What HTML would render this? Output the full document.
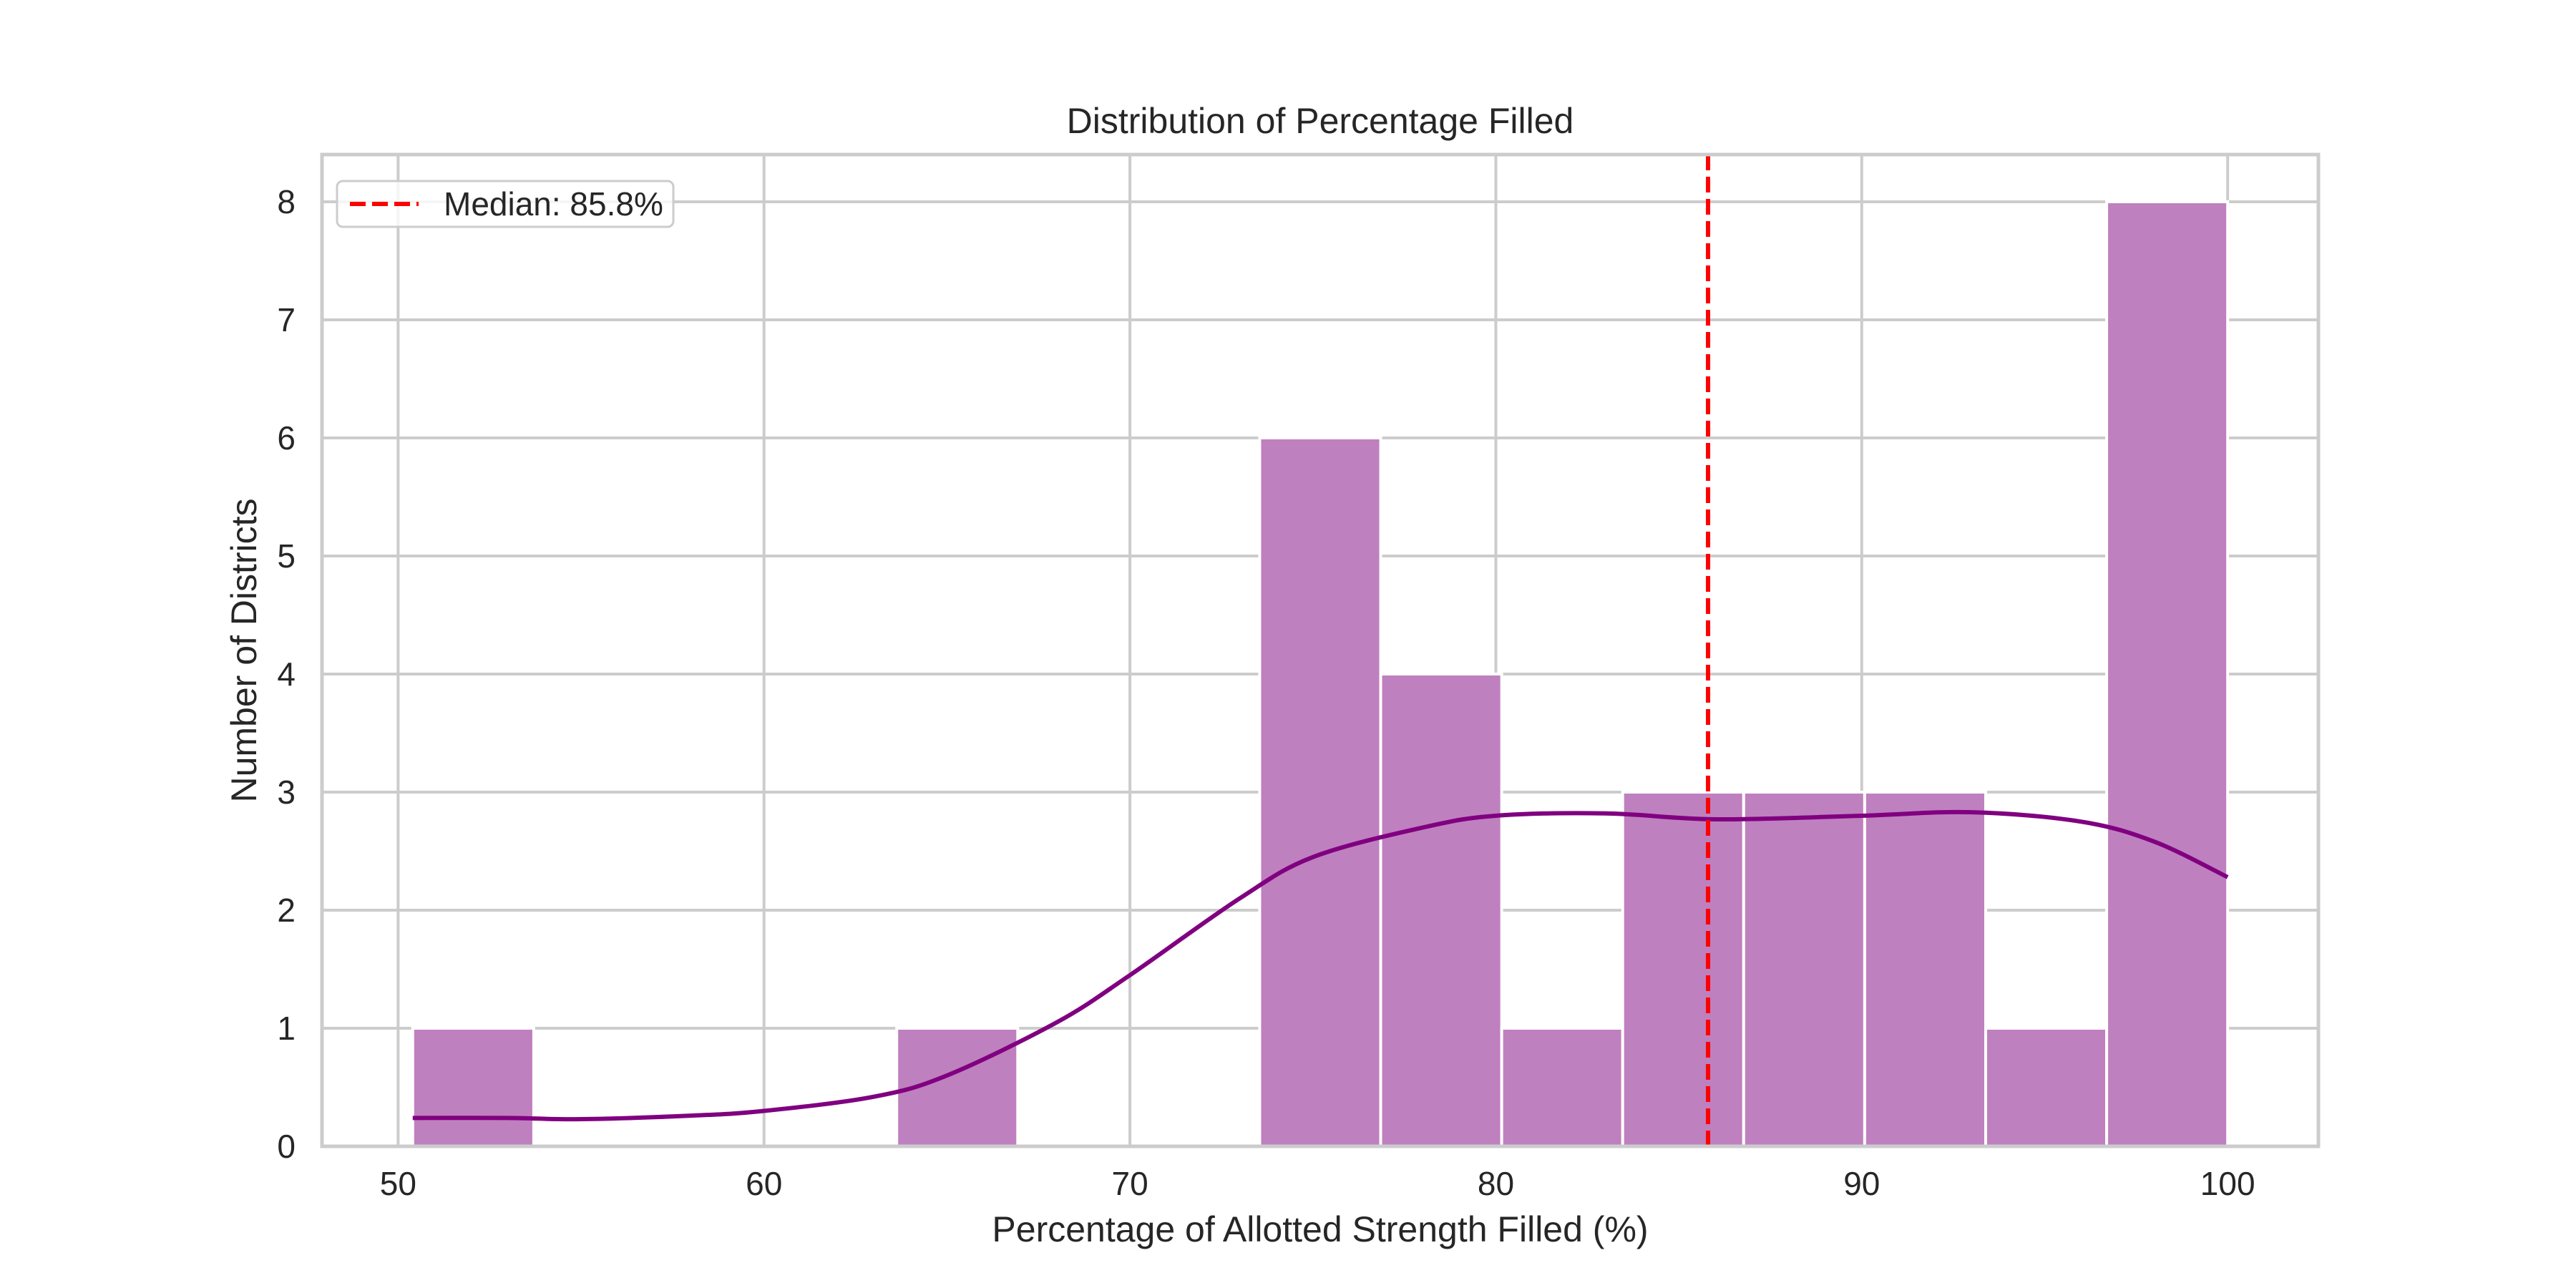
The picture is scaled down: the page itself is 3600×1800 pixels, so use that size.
<!DOCTYPE html>
<html><head><meta charset="utf-8"><style>
html,body{margin:0;padding:0;background:#fff}
svg{display:block;font-family:"Liberation Sans",Arial,sans-serif}
</style></head><body>
<svg id="chart" width="3600" height="1800" viewBox="0 0 3600 1800">
<g id="grid"></g>
<g id="bars"></g>
<g id="kde"></g>
<g id="median"></g>
<rect x="450" y="216" width="2790" height="1386" fill="none" stroke="#cccccc" stroke-width="5"/>
<g id="ticks"></g>
<text x="1845" y="186" font-size="50" text-anchor="middle" fill="#262626">Distribution of Percentage Filled</text>
<text x="1845" y="1735" font-size="50" text-anchor="middle" fill="#262626">Percentage of Allotted Strength Filled (%)</text>
<text transform="translate(358,909) rotate(-90)" font-size="50" text-anchor="middle" fill="#262626">Number of Districts</text>
<g>
<rect x="471" y="253" width="470" height="64" rx="8" fill="#fff" fill-opacity="0.8" stroke="#cccccc" stroke-width="3"/>
<line x1="489" y1="285" x2="585" y2="285" stroke="red" stroke-width="6" stroke-dasharray="22,9"/>
<text x="620" y="301" font-size="46" fill="#262626">Median: 85.8%</text>
</g>
</svg>
<script>
const binStart = 50.4;
const binEnd = 100;
const counts = [1,0,0,0,1,0,0,6,4,1,3,3,3,1,8];
const kdeX = [50.4,53,55,58,60,63,65,68,70,73,75,78,80,83,86,90,93,96,98,100];
const kdeY = [0.24,0.24,0.23,0.26,0.3,0.42,0.6,1.05,1.45,2.1,2.45,2.7,2.8,2.82,2.77,2.8,2.83,2.75,2.58,2.28];
const medianVal = 85.8;
const xTicks = [50,60,70,80,90,100];
const yTicks = [0,1,2,3,4,5,6,7,8];

const L=450,R=3240,T=216,B=1602;
const xmin=47.92,xmax=102.48,ymax=8.4;
const sx=v=>L+(v-xmin)/(xmax-xmin)*(R-L);
const sy=v=>B-v/ymax*(B-T);
const NS='http://www.w3.org/2000/svg';
function mk(tag,parent,attrs){const e=document.createElementNS(NS,tag);for(const k in attrs)e.setAttribute(k,attrs[k]);parent.appendChild(e);return e;}
const grid=document.getElementById('grid'),ticks=document.getElementById('ticks');
xTicks.forEach(v=>{
  const l=mk('line',grid,{x1:sx(v),x2:sx(v),y1:T,y2:B,stroke:'#cccccc','stroke-width':4});
  
  
  const t=mk('text',ticks,{x:sx(v),y:1670,'font-size':46,'text-anchor':'middle',fill:'#262626'});
  t.textContent=v;
  
  
});
yTicks.forEach(v=>{
  const l=mk('line',grid,{x1:L,x2:R,y1:sy(v),y2:sy(v),stroke:'#cccccc','stroke-width':4});
  
  
  const t=mk('text',ticks,{x:413,y:sy(v)+16,'font-size':46,'text-anchor':'end',fill:'#262626'});
  t.textContent=v;
  
  
});
const bars=document.getElementById('bars');
const w=(binEnd-binStart)/counts.length;
counts.forEach((c,i)=>{
  if(!c)return;
  const x0=sx(binStart+i*w),x1=sx(binStart+(i+1)*w);
  const r=mk('rect',bars,{x:x0,y:sy(c),width:x1-x0,height:sy(0)-sy(c),fill:'#bf80bf',stroke:'#fff','stroke-width':4});
  
  
});
const kde=document.getElementById('kde');
const pts=kdeX.map((x,i)=>[sx(x),sy(kdeY[i])]);
let d='M'+pts[0][0].toFixed(1)+','+pts[0][1].toFixed(1);
for(let i=0;i<pts.length-1;i++){
  const p0=pts[Math.max(0,i-1)],p1=pts[i],p2=pts[i+1],p3=pts[Math.min(pts.length-1,i+2)];
  const c1=[p1[0]+(p2[0]-p0[0])/6,p1[1]+(p2[1]-p0[1])/6];
  const c2=[p2[0]-(p3[0]-p1[0])/6,p2[1]-(p3[1]-p1[1])/6];
  d+='C'+c1[0].toFixed(1)+','+c1[1].toFixed(1)+' '+c2[0].toFixed(1)+','+c2[1].toFixed(1)+' '+p2[0].toFixed(1)+','+p2[1].toFixed(1);
}
const p=mk('path',kde,{d:d,fill:'none',stroke:'purple','stroke-width':6,'stroke-linejoin':'round'});


const m=mk('line',document.getElementById('median'),{x1:sx(medianVal),x2:sx(medianVal),y1:T,y2:B,stroke:'red','stroke-width':6,'stroke-dasharray':'22,9'});


</script>
</body></html>
